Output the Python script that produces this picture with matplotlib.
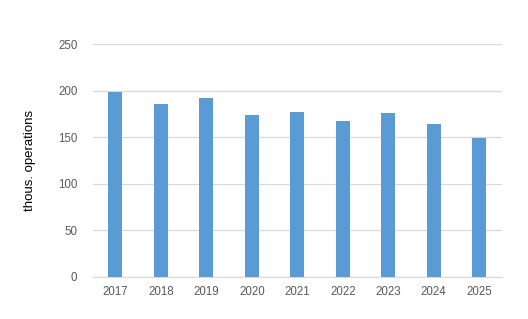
import matplotlib
matplotlib.use("Agg")
import matplotlib.pyplot as plt

years = ["2017", "2018", "2019", "2020", "2021", "2022", "2023", "2024", "2025"]
values = [198.7, 185.8, 192.2, 174.0, 177.2, 167.5, 176.1, 164.3, 149.2]
yticks = [0, 50, 100, 150, 200, 250]
ylabel = "thous. operations"

plt.rcParams['font.family'] = ['Liberation Sans', 'DejaVu Sans']

fig = plt.figure(figsize=(5.28, 3.19), dpi=100)
ax = fig.add_axes([92.7/528, 1-276.7/319, (502-92.7)/528, (276.7-44.3)/319])

x = list(range(len(years)))
ax.bar(x, values, width=0.31, color="#5B9BD5", zorder=3)
ax.set_xlim(-0.5, len(years)-0.5)
ax.set_ylim(0, 250)
ax.set_yticks(yticks)
ax.set_xticks(x)
ax.set_xticklabels(years)
ax.grid(axis='y', color="#D9D9D9", linewidth=0.9, zorder=0)
for s in ['top', 'right', 'left']:
    ax.spines[s].set_visible(False)
ax.spines['bottom'].set_color("#D9D9D9")
ax.spines['bottom'].set_linewidth(0.9)
ax.tick_params(axis='both', length=0, colors="#595959", labelsize=8.3)
ax.tick_params(axis='y', pad=11)
ax.tick_params(axis='x', pad=7)
ax.set_ylabel(ylabel, fontsize=9.5, color="#000000", labelpad=16)

fig.savefig("out.png", dpi=100)
